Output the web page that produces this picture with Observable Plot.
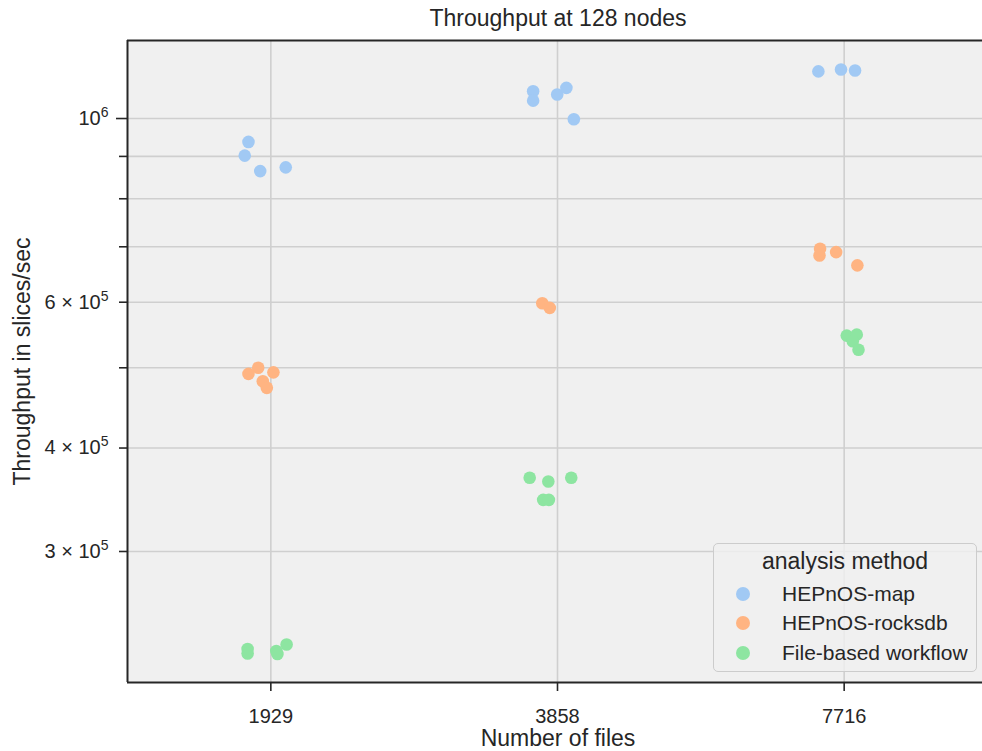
<!DOCTYPE html>
<html>
<head>
<meta charset="utf-8">
<script src="https://cdn.jsdelivr.net/npm/d3@7"></script>
<script src="https://cdn.jsdelivr.net/npm/@observablehq/plot@0.6"></script>
<style>
  html, body { margin: 0; padding: 0; background: #ffffff; overflow: hidden; }
  #wrap { position: relative; width: 982px; height: 751px; overflow: hidden; font-family: "Liberation Sans", Arial, sans-serif; color: #262626; }
  #wrap svg { display: block; font-family: "Liberation Sans", Arial, sans-serif; color: #262626; background: #ffffff; }
  #legend { position: absolute; left: 713px; top: 543px; width: 262px; height: 127px;
    border: 1.5px solid #cccccc; border-radius: 5px; background: rgba(240,240,240,0.8); }
  #legend .ttl { position: absolute; left: 0; width: 100%; top: 4px; text-align: center; font-size: 23px; line-height: 26px; }
  #legend .row { position: absolute; left: 0; height: 24px; line-height: 24px; font-size: 21px; }
  #legend .sw { position: absolute; left: 22px; top: 5px; width: 14px; height: 14px; border-radius: 50%; }
  #legend .lb { position: absolute; left: 68px; white-space: nowrap; }
</style>
</head>
<body>
<div id="wrap"></div>
<script>
// ---- data ----
const files = ["1929", "3858", "7716"];
const methods = ["HEPnOS-map", "HEPnOS-rocksdb", "File-based workflow"];
const palette = ["#a1c9f4", "#ffb482", "#8de5a1"];

const mapFiles = ["1929","1929","1929","1929","3858","3858","3858","3858","3858","7716","7716","7716"];
const mapThroughput = [937000, 902000, 864000, 873000, 1079000, 1051000, 1069000, 1089000, 998000, 1140000, 1146000, 1143000];
const mapJitter = [-0.078, -0.091, -0.037, 0.052, -0.085, -0.085, -0.001, 0.031, 0.057, -0.090, -0.011, 0.038];

const rocksFiles = ["1929","1929","1929","1929","1929","3858","3858","7716","7716","7716","7716"];
const rocksThroughput = [500000, 491600, 493700, 481700, 472900, 598200, 590600, 696300, 683300, 689700, 664800];
const rocksJitter = [-0.044, -0.078, 0.009, -0.028, -0.014, -0.053, -0.027, -0.084, -0.086, -0.028, 0.046];

const fileFiles = ["1929","1929","1929","1929","1929","3858","3858","3858","3858","3858","7716","7716","7716","7716"];
const fileThroughput = [228700, 225900, 227500, 225600, 231600, 368200, 364400, 368200, 346300, 346300, 546800, 548300, 538300, 525700];
const fileJitter = [-0.081, -0.081, 0.019, 0.023, 0.055, -0.097, -0.032, 0.048, -0.050, -0.030, 0.009, 0.044, 0.030, 0.050];

const yDomain = [208400, 1242300];
const gridTicks = [300000, 400000, 500000, 600000, 700000, 800000, 900000, 1000000];
const majorTicks = [1000000];
const minorTicks = [300000, 400000, 500000, 600000, 700000, 800000, 900000];
const labeledTicks = [300000, 400000, 600000, 1000000];
const tickLabels = {300000: "3 × 10^5", 400000: "4 × 10^5", 600000: "6 × 10^5", 1000000: "10^6"};

const titleText = "Throughput at 128 nodes";
const xLabel = "Number of files";
const yLabel = "Throughput in slices/sec";
const legendTitle = "analysis method";

// ---- build table ----
const rows = [];
function addSeries(method, fs, vs, js) {
  fs.forEach((f, i) => rows.push({method, file: f, value: vs[i], jitter: js[i]}));
}
addSeries(methods[0], mapFiles, mapThroughput, mapJitter);
addSeries(methods[1], rocksFiles, rocksThroughput, rocksJitter);
addSeries(methods[2], fileFiles, fileThroughput, fileJitter);

const ink = "#262626";
const gridColor = "#cfcfcf";

const chart = Plot.plot({
  width: 982,
  height: 751,
  marginTop: 40,
  marginBottom: 69,
  marginLeft: 127,
  marginRight: 0,
  x: {type: "linear", domain: [-0.5, 2.5], range: [127, 987]},
  y: {type: "log", domain: yDomain},
  color: {domain: methods, range: palette},
  marks: [
    Plot.frame({fill: "#f0f0f0", stroke: "none"}),
    Plot.ruleY(gridTicks, {stroke: gridColor, strokeWidth: 1.6}),
    Plot.ruleX([0, 1, 2], {stroke: gridColor, strokeWidth: 1.6}),
    Plot.dot(rows, {
      x: d => files.indexOf(d.file) + d.jitter,
      y: "value",
      fill: "method",
      r: 6.3,
      stroke: "none"
    }),
    Plot.ruleX([-0.5], {stroke: ink, strokeWidth: 2}),
    Plot.ruleY(yDomain, {stroke: ink, strokeWidth: 2}),
    Plot.axisY(minorTicks, {anchor: "left", tickSize: 8, tickFormat: () => "", color: ink, strokeWidth: 1.6, label: null}),
    Plot.axisY(majorTicks, {anchor: "left", tickSize: 11, tickFormat: () => "", color: ink, strokeWidth: 1.6, label: null}),
    Plot.axisY(labeledTicks, {anchor: "left", tickSize: 0, tickPadding: 19, tickFormat: d => tickLabels[d], fontSize: 20, color: ink, label: null}),
    Plot.axisX([0, 1, 2], {anchor: "bottom", tickSize: 9, tickPadding: 17, tickFormat: i => files[i], fontSize: 20, color: ink, strokeWidth: 1.6, label: null}),
    Plot.text([titleText], {text: d => d, frameAnchor: "top", dy: -22, dx: 3, fontSize: 23, fill: ink, lineAnchor: "middle"}),
    Plot.text([xLabel], {text: d => d, frameAnchor: "bottom", dy: 56, dx: 3, fontSize: 23, fill: ink, lineAnchor: "middle"}),
    Plot.text([yLabel], {text: d => d, frameAnchor: "left", dx: -105, rotate: -90, textAnchor: "middle", fontSize: 23, fill: ink, lineAnchor: "middle"})
  ]
});

// superscript exponents on the y tick labels
chart.querySelectorAll("text").forEach(el => {
  const s = el.textContent;
  if (s.includes("^") && el.children.length <= 1) {
    const [base, exp] = s.split("^");
    while (el.firstChild) el.removeChild(el.firstChild);
    const ns = "http://www.w3.org/2000/svg";
    const t1 = document.createElementNS(ns, "tspan");
    t1.textContent = base;
    const t2 = document.createElementNS(ns, "tspan");
    t2.textContent = exp;
    t2.setAttribute("font-size", "14");
    t2.setAttribute("dy", "-8");
    el.appendChild(t1);
    el.appendChild(t2);
  }
});

const wrap = document.getElementById("wrap");
wrap.appendChild(chart);

// legend (HTML overlay inside the axes area, like the reference)
const lg = document.createElement("div");
lg.id = "legend";
const t = document.createElement("div");
t.className = "ttl";
t.textContent = legendTitle;
lg.appendChild(t);
const rowTops = [38, 67, 97];
methods.forEach((m, i) => {
  const r = document.createElement("div");
  r.className = "row";
  r.style.top = rowTops[i] + "px";
  const sw = document.createElement("span");
  sw.className = "sw";
  sw.style.background = palette[i];
  const lb = document.createElement("span");
  lb.className = "lb";
  lb.textContent = m;
  r.appendChild(sw);
  r.appendChild(lb);
  lg.appendChild(r);
});
wrap.appendChild(lg);
</script>
</body>
</html>
